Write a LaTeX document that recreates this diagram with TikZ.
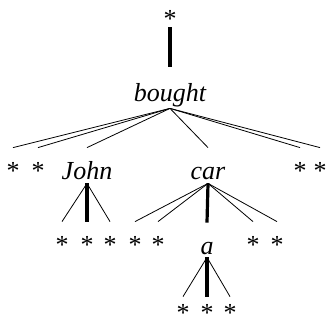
\documentclass[tikz,border=0pt]{standalone}
\usepackage{fontspec}
\setmainfont{Liberation Serif}
\begin{document}
\begin{tikzpicture}[x=1pt, y=-1pt, line width=.8pt,
  lbl/.style={inner sep=0pt, anchor=base, text height=31pt, text depth=4pt, font=\fontsize{26}{30}\selectfont},
  word/.style={lbl, font=\fontsize{26}{30}\selectfont\itshape},
  head/.style={line width=3.2pt}]
\useasboundingbox (0,0) rectangle (326,324);
% root
\node[lbl, text depth=0pt] (top) at (170,27) {*};
\node[word, text height=34pt, text depth=7pt] (bought) at (170,101) {bought};
% first level
\node[lbl] (s1) at (13,179) {*};
\node[lbl] (s2) at (38,179) {*};
\node[word] (john) at (87,179) {John};
\node[word] (car) at (208,179) {car};
\node[lbl] (s3) at (300,179) {*};
\node[lbl] (s4) at (320,179) {*};
% second level
\node[lbl] (j1) at (62,253) {*};
\node[lbl] (j2) at (87,253) {*};
\node[lbl] (j3) at (110,253) {*};
\node[lbl] (c1) at (135,253) {*};
\node[lbl] (c2) at (158,253) {*};
\node[word, text depth=3pt] (a) at (207,254) {a};
\node[lbl] (c4) at (253,253) {*};
\node[lbl] (c5) at (277,253) {*};
% third level
\node[lbl, text height=24pt, text depth=0pt] (a1) at (183,321) {*};
\node[lbl, text height=24pt, text depth=0pt] (a2) at (207,321) {*};
\node[lbl, text height=24pt, text depth=0pt] (a3) at (230,321) {*};

\draw[head] (top.south) -- (bought.north);
\foreach \c in {s1,s2,john,car,s3,s4}
    \draw (bought.south) -- (\c.north);
\draw (john.south) -- (j1.north);
\draw[head] (john.south) -- (j2.north);
\draw (john.south) -- (j3.north);
\foreach \c in {c1,c2,c4,c5}
    \draw (car.south) -- (\c.north);
\draw[head] (car.south) -- (a.north);
\draw (a.south) -- (a1.north);
\draw[head] (a.south) -- (a2.north);
\draw (a.south) -- (a3.north);

\end{tikzpicture}
\end{document}
